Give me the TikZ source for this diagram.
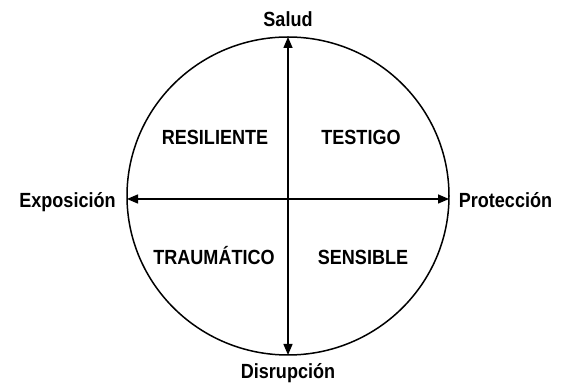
\documentclass[tikz,border=0pt]{standalone}
\usepackage{fontspec}
\setmainfont[FakeStretch=0.88]{Liberation Sans}
\usetikzlibrary{arrows.meta}
\begin{document}
\begin{tikzpicture}[x=1pt,y=-1pt,
  lbl/.style={inner sep=0pt,anchor=base,font=\fontsize{20.5}{23}\selectfont\bfseries},
  axis/.style={line width=1.5pt,{Triangle[length=11pt,width=9pt]}-{Triangle[length=11pt,width=9pt]}},
  rim/.style={line width=1.5pt}]
\useasboundingbox (0,0) rectangle (571,387);
\draw[rim] (288,196) ellipse [x radius=161, y radius=159];
\coordinate (top) at (288,37);
\coordinate (bot) at (288,355);
\coordinate (lft) at (127,199);
\coordinate (rgt) at (449,199);
\draw[axis] (top) -- (bot);
\draw[axis] (lft) -- (rgt);
\node[lbl] (salud) at (288,27) {Salud};
\node[lbl] (disr) at (288,379) {Disrupción};
\node[lbl] (expo) at (67.5,208) {Exposición};
\node[lbl] (prot) at (505.5,208) {Protección};
\node[lbl] (res) at (215,145) {RESILIENTE};
\node[lbl] (tes) at (361,145) {TESTIGO};
\node[lbl] (tra) at (214,265) {TRAUMÁTICO};
\node[lbl] (sen) at (363,265) {SENSIBLE};
\end{tikzpicture}
\end{document}
